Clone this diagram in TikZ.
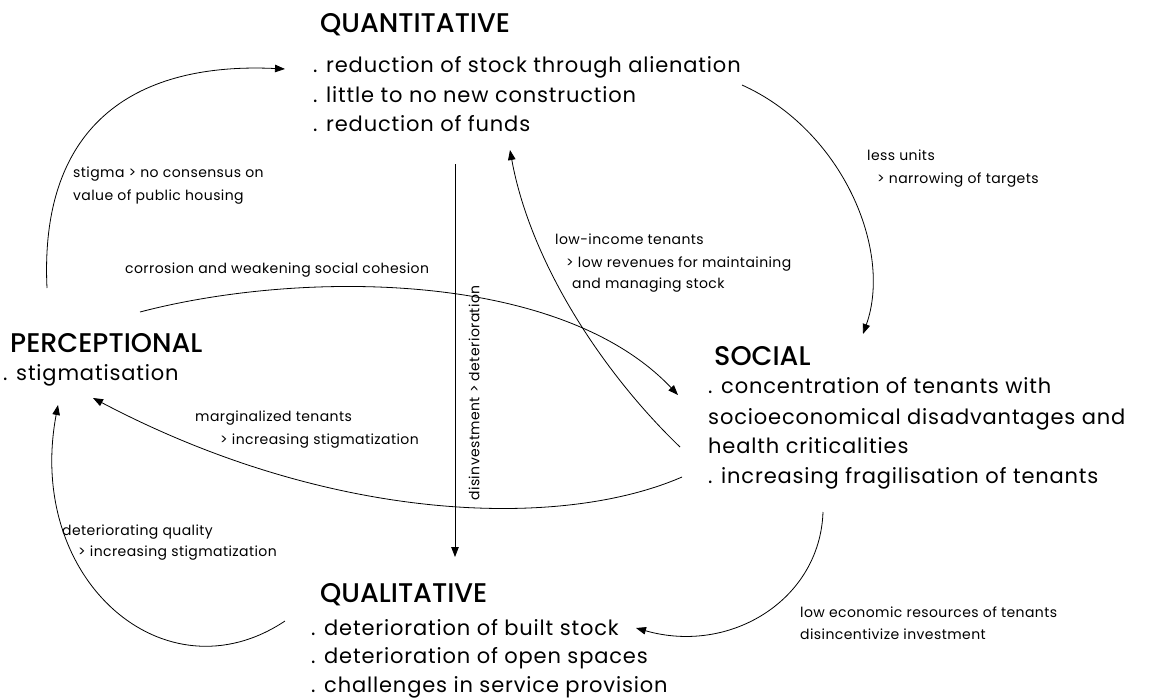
\documentclass[tikz,border=0pt]{standalone}
\usepackage{fontspec}
\setmainfont{Poppins}[BoldFont={Poppins Medium}]
\newfontfamily\itemfont{Poppins}[LetterSpace=4]
\newfontfamily\notefont{Poppins}[LetterSpace=3]
\usetikzlibrary{arrows.meta}

\tikzset{
  head/.style={anchor=base west, inner sep=0pt, font=\fontsize{27}{30}\selectfont\bfseries},
  item/.style={anchor=base west, inner sep=0pt, font=\fontsize{21}{25}\itemfont},
  note/.style={anchor=base west, inner sep=0pt, font=\fontsize{14}{17}\notefont},
  link/.style={line width=0.8pt, -{Triangle[length=10pt,width=7.5pt]}},
}

\begin{document}
\begin{tikzpicture}[x=1pt,y=-1pt]
  \useasboundingbox (0,0) rectangle (1154,699);

  % the four dimensions
  \node[head] (qnh) at (320,32) {QUANTITATIVE};
  \node[item] (qn1) at (313,72) {. reduction of stock through alienation};
  \node[item] (qn2) at (313,102) {. little to no new construction};
  \node[item] (qn3) at (313,131) {. reduction of funds};

  \node[head] (pch) at (10,352) {PERCEPTIONAL};
  \node[item] (pc1) at (3,380) {. stigmatisation};

  \node[head] (soh) at (714,365) {SOCIAL};
  \node[item] (so1) at (708,393) {. concentration of tenants with};
  \node[item] (so2) at (708,424) {socioeconomical disadvantages and};
  \node[item] (so3) at (708,453) {health criticalities};
  \node[item] (so4) at (708,483) {. increasing fragilisation of tenants};

  \node[head] (qlh) at (320,602) {QUALITATIVE};
  \node[item] (ql1) at (311,635) {. deterioration of built stock};
  \node[item] (ql2) at (311,663) {. deterioration of open spaces};
  \node[item] (ql3) at (311,692) {. challenges in service provision};

  % labels on the links
  \node[note] (st1) at (73,177) {stigma > no consensus on};
  \node[note] (st2) at (73,200) {value of public housing};
  \node[note] (co1) at (125,273) {corrosion and weakening social cohesion};
  \node[note] (lu1) at (867,160) {less units};
  \node[note] (lu2) at (877,183) {> narrowing of targets};
  \node[note] (li1) at (555,244) {low-income tenants};
  \node[note] (li2) at (566,267) {> low revenues for maintaining};
  \node[note] (li3) at (572,288) {and managing stock};
  \node[note] (mt1) at (195,421) {marginalized tenants};
  \node[note] (mt2) at (220,444) {> increasing stigmatization};
  \node[note] (dq1) at (62,535) {deteriorating quality};
  \node[note] (dq2) at (78,556) {> increasing stigmatization};
  \node[note] (le1) at (800,617) {low economic resources of tenants};
  \node[note] (le2) at (800,639) {disincentivize investment};
  \node[note, anchor=center, rotate=90] (di) at (474,393) {disinvestment > deterioration};

  % ends of the links
  \coordinate (pcout) at (47,288);
  \coordinate (qnin) at (285,69);
  \coordinate (qnout) at (742,85);
  \coordinate (soin) at (863,334);
  \coordinate (qndown) at (455,164);
  \coordinate (qlin) at (455,557);
  \coordinate (soup) at (680,447);
  \coordinate (qnup) at (510,150);
  \coordinate (pcright) at (140,312);
  \coordinate (soleft) at (678,395);
  \coordinate (soback) at (682,477);
  \coordinate (pcin) at (93,398);
  \coordinate (qlout) at (285,621);
  \coordinate (pcbelow) at (58,405);
  \coordinate (sodown) at (823,512);
  \coordinate (qlright) at (636,628);

  \draw[link] (pcout) .. controls +(-8,-168) and +(-145,-7) .. (qnin);
  \draw[link] (qnout) .. controls +(100,45) and +(30,-84) .. (soin);
  \draw[link] (qndown) -- (qlin);
  \draw[link] (soup) .. controls +(-80,-77) and +(20,110) .. (qnup);
  \draw[link] (pcright) .. controls +(160,-42) and +(-118,-125) .. (soleft);
  \draw[link] (soback) .. controls +(-122,53) and +(237,125) .. (pcin);
  \draw[link] (qlout) .. controls +(-120,80) and +(-33,175) .. (pcbelow);
  \draw[link] (sodown) .. controls +(-3,88) and +(94,27) .. (qlright);
\end{tikzpicture}
\end{document}
